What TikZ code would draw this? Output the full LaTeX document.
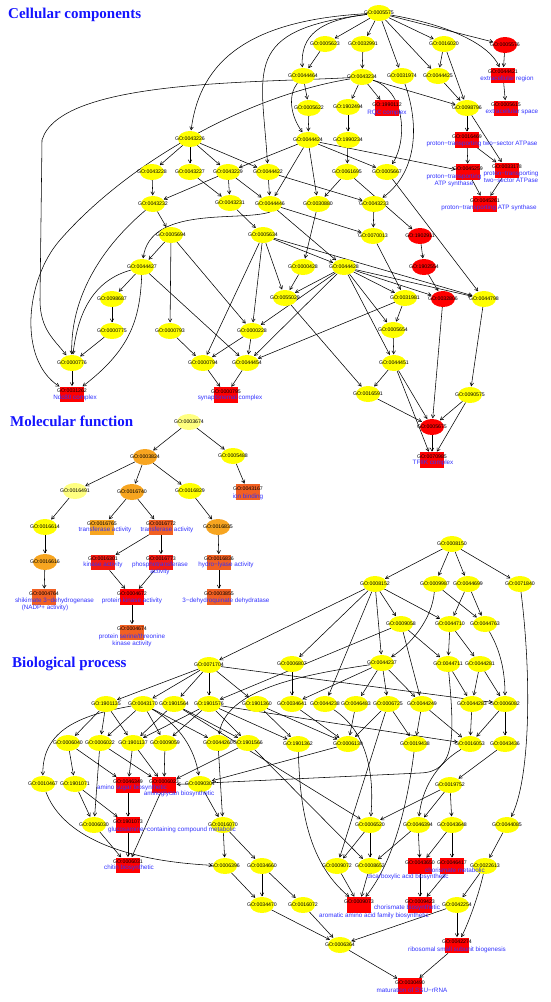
\documentclass[tikz,border=0pt]{standalone}
\usepackage{fontspec}
\setmainfont{Liberation Sans}
\newfontfamily\titlefont{Liberation Serif}
\usetikzlibrary{shapes.geometric,arrows.meta,backgrounds}
\definecolor{goyel}{HTML}{FFFF00}
\definecolor{golyel}{HTML}{FFFF80}
\definecolor{gored}{HTML}{FF0000}
\definecolor{gored2}{HTML}{F41A12}
\definecolor{goorg}{HTML}{F7A520}
\definecolor{goored}{HTML}{F26022}
\definecolor{goblue}{HTML}{3232FF}
\definecolor{titleblue}{HTML}{1414FF}
\tikzset{
  gon/.style={inner sep=0pt,outer sep=0pt,draw=none},
  ye/.style={gon,ellipse,minimum width=24pt,minimum height=16pt,fill=goyel},
  lye/.style={ye,fill=golyel},
  re/.style={ye,fill=gored},
  oe/.style={ye,fill=goorg},
  rb/.style={gon,rectangle,minimum width=24pt,minimum height=15.5pt,fill=gored},
  rb2/.style={rb,fill=gored2},
  ob/.style={rb,fill=goorg},
  orb/.style={rb,fill=goored},
  gid/.style={inner sep=0pt,font=\fontsize{5.2}{6}\selectfont,text=black},
  dsc/.style={inner sep=0pt,font=\fontsize{6.3}{6.8}\selectfont,text=goblue,align=center},
  ttl/.style={inner sep=0pt,anchor=west,font=\titlefont\bfseries\fontsize{15}{18}\selectfont,text=titleblue},
  ed/.style={line width=0.55pt,-{Straight Barb[length=3.2pt,width=3.6pt]},shorten >=0.6pt},
}
\newcommand{\goE}[4]{\node[#1] (n#2) at (#3,-#4) {}; \node[gid] (t#2) at (#3,-#4) {GO:#2};}
\newcommand{\goB}[4]{\node[#1] (n#2) at (#3,-#4) {}; \node[gid] (t#2) at (#3,-#4+3.5) {GO:#2};}
\newcommand{\goD}[4]{\node[dsc] (d#1) at (#2,-#3) {#4};}
\begin{document}
\begin{tikzpicture}[x=1pt,y=1pt]
\useasboundingbox (0,0) rectangle (550,-1002);
% titles
\node[ttl] (title1) at (8,-14.5) {Cellular components};
\node[ttl] (title2) at (10,-421) {Molecular function};
\node[ttl] (title3) at (12,-664) {Biological process};
% ---------------- Cellular component ----------------
\goE{ye}{0005575}{379}{13}
\goE{ye}{0005623}{325}{44}
\goE{ye}{0032991}{363}{44}
\goE{ye}{0016020}{444}{44}
\goE{re}{0005576}{505}{45}
\goE{ye}{0044464}{303}{76}
\goE{ye}{0043234}{362}{77}
\goE{ye}{0031974}{402}{76}
\goE{ye}{0044425}{438}{76}
\goB{rb}{0044421}{503}{75.5}
\goE{ye}{0005622}{309}{108}
\goE{ye}{1902494}{348}{107}
\goB{rb}{1990112}{387}{108}
\goE{ye}{0098796}{467}{108}
\goB{rb}{0005615}{506}{108.5}
\goE{ye}{0043226}{190}{139}
\goE{ye}{0044424}{308}{140}
\goE{ye}{1990234}{348}{140}
\goB{rb}{0016469}{467}{140}
\goE{ye}{0043228}{152}{172}
\goE{ye}{0043227}{190}{172}
\goE{ye}{0043229}{228}{172}
\goE{ye}{0044422}{268}{172}
\goE{ye}{0061695}{347}{172}
\goE{ye}{0005667}{387}{172}
\goB{rb}{0045259}{468}{172}
\goB{rb}{0033178}{507}{170.5}
\goE{ye}{0043232}{153}{204}
\goE{ye}{0043231}{230}{203}
\goE{ye}{0044446}{270}{204}
\goE{ye}{0030880}{318}{204}
\goE{ye}{0043233}{374}{204}
\goB{rb}{0045261}{485}{204}
\goE{ye}{0005694}{171}{235}
\goE{ye}{0005634}{263}{235}
\goE{ye}{0070013}{373}{236}
\goE{re}{1902911}{420}{236}
\goE{ye}{0044427}{142}{267}
\goE{ye}{0000428}{303}{267}
\goE{ye}{0044428}{344}{267}
\goE{re}{1902554}{424}{267}
\goE{ye}{0098687}{112}{299}
\goE{ye}{0055029}{285}{298}
\goE{ye}{0031981}{405}{298}
\goE{re}{0032806}{443}{299}
\goE{ye}{0044798}{484}{299}
\goE{ye}{0000775}{112}{331}
\goE{ye}{0000793}{170}{331}
\goE{ye}{0000228}{252}{331}
\goE{ye}{0005654}{393}{330}
\goE{ye}{0000776}{72}{363}
\goE{ye}{0000794}{203}{363}
\goE{ye}{0044454}{247}{363}
\goE{ye}{0044451}{394}{363}
\goB{rb}{0031262}{72}{394.5}
\goB{rb}{0000795}{226}{395}
\goE{ye}{0016591}{368}{394}
\goE{ye}{0090575}{470}{395}
\goE{re}{0005675}{432}{427}
\goB{rb}{0070985}{432}{460}
\goD{0044421}{507}{79}{extracellular region}
\goD{1990112}{387}{113}{RQC complex}
\goD{0005615}{512}{112}{extracellular space}
\goD{0016469}{482}{143.5}{proton−transporting two−sector ATPase}
\goD{0045259}{454}{180}{proton−transporting\\ATP synthase}
\goD{0033178}{511}{176.5}{proton−transporting\\two−sector ATPase}
\goD{0045261}{489}{208}{proton−transporting ATP synthase}
\goD{0031262}{75}{398}{Ndc80 complex}
\goD{0000795}{230}{398}{synaptonemal complex}
\goD{0070985}{433}{463}{TFIIK complex}
% ---------------- Molecular function ----------------
\goE{lye}{0003674}{189}{422}
\goE{oe}{0003824}{145}{457}
\goE{ye}{0005488}{233}{456}
\goE{lye}{0016491}{75}{491}
\goE{oe}{0016740}{132}{492}
\goE{ye}{0016829}{190}{491}
\goB{orb}{0043167}{248}{492}
\goE{ye}{0016614}{45}{527}
\goB{ob}{0016765}{102}{527.5}
\goB{orb}{0016772}{161}{527.5}
\goE{oe}{0016835}{218}{527}
\goE{oe}{0016616}{45}{562}
\goB{rb2}{0016301}{103}{562.5}
\goB{rb2}{0016773}{161}{562.5}
\goB{orb}{0016836}{219}{562.5}
\goB{orb}{0004764}{44}{597}
\goB{rb}{0004672}{132}{597}
\goB{orb}{0003855}{219}{597}
\goB{orb}{0004674}{132}{632.5}
\goD{0043167}{248}{496.5}{ion binding}
\goD{0016765}{105}{529.5}{transferase activity}
\goD{0016772}{167}{529.5}{transferase activity}
\goD{0016301}{103}{565}{kinase activity}
\goD{0016773}{160}{568.5}{phosphotransferase\\activity}
\goD{0016836}{226}{565}{hydro−lyase activity}
\goD{0004764}{54.5}{601}{shikimate 3−dehydrogenase}
\goD{0004764b}{45}{608}{(NADP+ activity)}
\goD{0004672}{132}{601}{protein kinase activity}
\goD{0003855}{226}{601}{3−dehydroquinate dehydratase}
\goD{0004674}{132}{640}{protein serine/threonine\\kinase activity}
% ---------------- Biological process ----------------
\goE{ye}{0008150}{452}{544}
\goE{ye}{0008152}{375}{584}
\goE{ye}{0009987}{435}{584}
\goE{ye}{0044699}{468}{584}
\goE{ye}{0071840}{520}{584}
\goE{ye}{0009058}{401}{624}
\goE{ye}{0044710}{450}{624}
\goE{ye}{0044763}{485}{624}
\goE{ye}{0071704}{209}{665}
\goE{ye}{0006807}{292}{664}
\goE{ye}{0044237}{382}{663}
\goE{ye}{0044711}{448}{664}
\goE{ye}{0044281}{480}{664}
\goE{ye}{1901135}{106}{704}
\goE{ye}{0043170}{143}{704}
\goE{ye}{1901564}{174}{704}
\goE{ye}{1901576}{209}{704}
\goE{ye}{1901360}{257}{704}
\goE{ye}{0034641}{292}{704}
\goE{ye}{0044238}{325}{704}
\goE{ye}{0046483}{356}{704}
\goE{ye}{0006725}{388}{704}
\goE{ye}{0044249}{422}{704}
\goE{ye}{0044283}{472}{704}
\goE{ye}{0006082}{505}{704}
\goE{ye}{0006040}{68}{743}
\goE{ye}{0006022}{100}{743}
\goE{ye}{1901137}{133}{743}
\goE{ye}{0009059}{165}{743}
\goE{ye}{0044260}{218}{743}
\goE{ye}{1901566}{248}{743}
\goE{ye}{1901362}{298}{744}
\goE{ye}{0006139}{348}{744}
\goE{ye}{0019438}{415}{744}
\goE{ye}{0016053}{470}{744}
\goE{ye}{0043436}{505}{744}
\goE{ye}{0010467}{43}{784}
\goE{ye}{1901071}{75}{784}
\goB{rb}{0046349}{128}{785}
\goB{rb}{0006023}{164}{785}
\goE{ye}{0090304}{200}{784}
\goE{ye}{0019752}{450}{785}
\goE{ye}{0006030}{94}{825}
\goB{rb}{1901073}{128}{825}
\goE{ye}{0016070}{223}{825}
\goE{ye}{0006520}{370}{825}
\goE{ye}{0046394}{418}{825}
\goE{ye}{0043648}{452}{825}
\goE{ye}{0044085}{507}{825}
\goB{rb}{0006031}{128}{865.5}
\goE{ye}{0006396}{225}{866}
\goE{ye}{0034660}{262}{866}
\goE{ye}{0009072}{337}{866}
\goE{ye}{0008652}{370}{866}
\goB{rb}{0043650}{420}{866}
\goB{rb}{0046417}{452}{866}
\goE{ye}{0022613}{485}{866}
\goE{ye}{0034470}{262}{905}
\goE{ye}{0016072}{303}{905}
\goB{rb}{0009073}{359}{905}
\goB{rb}{0009423}{420}{905}
\goE{ye}{0042254}{457}{905}
\goE{ye}{0006364}{340}{945}
\goB{rb}{0042274}{457}{945.5}
\goB{rb}{0030490}{410}{986}
\goD{0046349}{132}{788}{amino sugar biosynthetic}
\goD{0006023}{179}{794}{aminoglycan biosynthetic}
\goD{1901073}{172}{830}{glucosamine−containing compound metabolic}
\goD{0006031}{129}{868}{chitin biosynthetic}
\goD{0043650}{408}{877}{dicarboxylic acid biosynthetic}
\goD{0046417}{455}{870}{chorismate metabolic}
\goD{0009423}{407}{908}{chorismate biosynthetic}
\goD{0009073}{374}{916}{aromatic amino acid family biosynthetic}
\goD{0042274}{457}{950}{ribosomal small subunit biogenesis}
\goD{0030490}{412}{990}{maturation of SSU−rRNA}
% ---------------- edges ----------------
\begin{pgfonlayer}{background}
\fill[white] (0,0) rectangle (550,-1002);
\foreach \a/\b in {0005575/0005623,0005575/0032991,0005575/0031974,0005575/0016020,0005575/0044425,0005575/0005576,
0005623/0044464,0032991/0043234,0016020/0044425,0016020/0098796,0005576/0044421,0044421/0005615,
0044464/0005622,0043234/1902494,0043234/1990112,0043234/0098796,0044425/0098796,0005622/0044424,
1902494/1990234,0098796/0016469,0098796/0033178,1990234/0061695,
0043226/0043228,0043226/0043227,0043226/0043229,0043226/0044422,
0044424/0043229,0044424/0044446,0044424/0030880,0044424/0005667,0044424/0045259,
0043228/0043232,0043227/0043231,0043229/0043232,0043229/0043231,0043229/0044446,
0044422/0044446,0044422/0043233,0061695/1902911,0061695/0030880,0005667/0044798,
0016469/0045259,0016469/0033178,0045259/0045261,0033178/0045261,
0043232/0005694,0043231/0005634,0044446/0044428,0044446/0070013,0030880/0000428,0043233/0070013,
0005694/0044427,0005694/0000793,0005694/0000228,
0005634/0000228,0005634/0055029,0005634/0044428,0005634/0000794,0005634/0044798,
0070013/0031981,1902911/1902554,0044427/0098687,0044427/0044454,0000428/0055029,
0044428/0055029,0044428/0031981,0044428/0005654,0044428/0044451,0044428/0000228,0044428/0044454,0044428/0032806,0044428/0044798,
1902554/0032806,0098687/0000775,0055029/0016591,0031981/0005654,0031981/0044454,
0032806/0005675,0044798/0090575,0000775/0000776,0000793/0000794,0000228/0000794,0000228/0044454,
0005654/0044451,0000776/0031262,0000794/0000795,0044454/0000795,
0044451/0016591,0044451/0005675,0044451/0070985,0016591/0005675,0090575/0005675,0090575/0070985,0005675/0070985,
0003674/0003824,0003674/0005488,0003824/0016491,0003824/0016740,0003824/0016829,0005488/0043167,
0016491/0016614,0016740/0016765,0016740/0016772,0016829/0016835,0016614/0016616,0016616/0004764,
0016772/0016301,0016772/0016773,0016835/0016836,0016301/0004672,0016773/0004672,0016836/0003855,0004672/0004674,
0008150/0008152,0008150/0009987,0008150/0044699,0008150/0071840,
0008152/0071704,0008152/0006807,0008152/0044237,0008152/0009058,0008152/0044710,0008152/0044238,
0009987/0044763,0044699/0044710,0044699/0044763,
0009058/0044249,0009058/0044711,0009058/1901576,
0044710/0044711,0044710/0044281,
0071704/1901135,0071704/0043170,0071704/1901564,0071704/1901576,0071704/1901360,0071704/0006082,
0006807/0034641,0044237/0034641,0044237/0046483,0044237/0006725,0044237/0044249,
0044711/0044283,0044281/0044283,0044281/0006082,
1901135/0006040,1901135/0006022,1901135/1901137,
0043170/0006022,0043170/0009059,0043170/0044260,
1901564/1901137,1901564/1901566,1901564/0006520,
1901576/1901137,1901576/0009059,1901576/1901566,1901576/1901362,1901576/0016053,
1901360/1901362,1901360/0006139,
0034641/0006139,0046483/0006139,0006725/0006139,0006725/0019438,0006725/0009072,
0044249/0019438,0044249/0016053,0044283/0016053,0006082/0016053,0006082/0043436,
0006040/1901071,0006040/0046349,0006022/0006023,0006022/0006030,1901137/0046349,1901137/0006023,
0009059/0006023,0044260/0016070,1901566/0006023,1901566/0008652,0006139/0090304,
0043436/0019752,1901071/0006030,1901071/1901073,0046349/1901073,0006023/0006031,0090304/0016070,
0019752/0046394,0019752/0043648,0019752/0006520,
0006030/0006031,1901073/0006031,0016070/0006396,0016070/0034660,
0006520/0009072,0006520/0008652,0046394/0043650,0046394/0008652,
0043648/0043650,0043648/0046417,0044085/0022613,0006396/0034470,0034660/0034470,0034660/0016072,
0009072/0009073,0008652/0009073,0043650/0009423,0046417/0009423,0022613/0042254,
0034470/0006364,0016072/0006364,0042254/0006364,0042254/0042274,0006364/0030490,0042274/0030490}
{\draw[ed] (n\a) -- (n\b);}
% curved CC edges
\draw[ed] (n0005575) .. controls (320,-20) and (300,-35) .. (n0044464);
\draw[ed] (n0005575) .. controls (450,-25) and (490,-45) .. (n0044421);
\draw[ed] (n0005575) .. controls (250,-20) and (200,-60) .. (n0043226);
\draw[ed] (n0005575) .. controls (240,-30) and (262,-70) .. (n0044422);
\draw[ed] (n0044464) .. controls (288,-95) and (290,-115) .. (n0044424);
\draw[ed] (n0043234) .. controls (405,-90) and (408,-140) .. (n0005667);
\draw[ed] (n0031974) .. controls (418,-120) and (420,-170) .. (n0043233);
\draw[ed] (n0043234) .. controls (250,-95) and (130,-160) .. (60,-240) .. controls (25,-280) and (18,-360) .. (n0031262);
\draw[ed] (n0043234) .. controls (250,-83) and (60,-80) .. (42,-140) -- (40,-300) .. controls (40,-330) and (55,-340) .. (n0000776);
\draw[ed] (n0043232) .. controls (110,-240) and (70,-290) .. (n0000776);
\draw[ed] (n0044427) .. controls (95,-280) and (78,-310) .. (n0000776);
\draw[ed] (n0044427) .. controls (140,-320) and (130,-350) .. (n0031262);
\draw[ed] (n0044446.south) .. controls (240,-222) and (150,-205) .. (n0044427);
% curved BP edges
\draw[ed] (n0009987) .. controls (432,-620) and (410,-645) .. (n0044237);
\draw[ed] (n0044763) .. controls (500,-650) and (505,-670) .. (n0006082);
\draw[ed] (n0071840) .. controls (532,-680) and (530,-780) .. (n0044085);
\draw[ed] (n0044711) .. controls (455,-740) and (455,-772) .. (420,-773) -- (n0006023);
\draw[ed] (n0044238) .. controls (365,-730) and (375,-770) .. (n0006520);
\draw[ed] (n0016053) .. controls (435,-765) and (422,-790) .. (n0046394);
\draw[ed] (n0043170) .. controls (80,-715) and (42,-730) .. (n0010467);
\draw[ed] (n0043170) .. controls (180,-725) and (195,-750) .. (n0090304);
\draw[ed] (n0044237) .. controls (300,-675) and (225,-690) .. (n0044260);
\draw[ed] (n0010467) .. controls (60,-830) and (110,-860) .. (n0006396);
\draw[ed] (n1901362) .. controls (300,-800) and (305,-860) .. (n0009073);
\draw[ed] (n0019438) .. controls (408,-800) and (395,-860) .. (n0009073);
\draw[ed] (n0022613) .. controls (480,-890) and (470,-920) .. (n0042274);
\end{pgfonlayer}
\end{tikzpicture}
\end{document}
